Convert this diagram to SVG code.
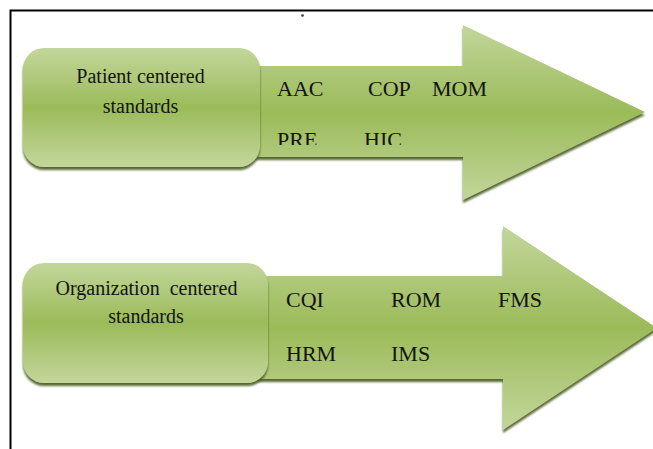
<svg xmlns="http://www.w3.org/2000/svg" width="653" height="449" viewBox="0 0 653 449">
  <style>
    .box { stroke: none; }
    .lbl { font-family: "Liberation Serif", "Times New Roman", serif; font-size: 20px; fill: #141414; text-anchor: middle; }
    .std { font-family: "Liberation Serif", "Times New Roman", serif; font-size: 22px; fill: #141414; }
    .frame { stroke: #000; stroke-width: 2; fill: none; }
  </style>
  <defs>
    <linearGradient id="g" x1="0" y1="0" x2="0" y2="1">
      <stop offset="0" stop-color="#c3d69b"/>
      <stop offset="0.5" stop-color="#9bbb59"/>
      <stop offset="1" stop-color="#c3d69b"/>
    </linearGradient>
    <filter id="sh" x="-10%" y="-10%" width="120%" height="130%">
      <feDropShadow dx="0" dy="3" stdDeviation="1.2" flood-color="#4f6228" flood-opacity="0.95"/>
    </filter>
    <clipPath id="clipTop">
      <rect x="260" y="0" width="300" height="145"/>
    </clipPath>
  </defs>

  <rect x="0" y="0" width="653" height="449" fill="#fff"/>
  <path class="frame" d="M10.5,449 V10.5 H653"/>
  <circle cx="302.5" cy="15.5" r="1.3" fill="#1f3864"/>

  <g id="connectors">
    <path id="arrow1" class="box" d="M240,66 H463 V25 L645,112 L463,200 V157 H240 Z" fill="url(#g)" filter="url(#sh)"/>
    <path id="arrow2" class="box" d="M250,276 H503 V226 L657,328 L503,430 V379 H250 Z" fill="url(#g)" filter="url(#sh)"/>
  </g>

  <g id="patient">
    <rect class="box" x="23" y="48" width="237" height="119" rx="21" fill="url(#g)" filter="url(#sh)"/>
    <text class="lbl" x="140.5" y="83">Patient centered</text>
    <text class="lbl" x="140.5" y="113">standards</text>
  </g>

  <g id="patient-standards">
    <text class="std" x="277" y="96">AAC</text>
    <text class="std" x="368" y="96">COP</text>
    <text class="std" x="432" y="96">MOM</text>
    <g clip-path="url(#clipTop)">
      <text class="std" x="277" y="147">PRE</text>
      <text class="std" x="364" y="147">HIC</text>
    </g>
  </g>

  <g id="organization">
    <rect class="box" x="23" y="263" width="245" height="120" rx="21" fill="url(#g)" filter="url(#sh)"/>
    <text class="lbl" x="146.5" y="295" word-spacing="5">Organization centered</text>
    <text class="lbl" x="146" y="323">standards</text>
  </g>

  <g id="organization-standards">
    <text class="std" x="286" y="307">CQI</text>
    <text class="std" x="391" y="307">ROM</text>
    <text class="std" x="498" y="307">FMS</text>
    <text class="std" x="286" y="361">HRM</text>
    <text class="std" x="391" y="361">IMS</text>
  </g>
</svg>
